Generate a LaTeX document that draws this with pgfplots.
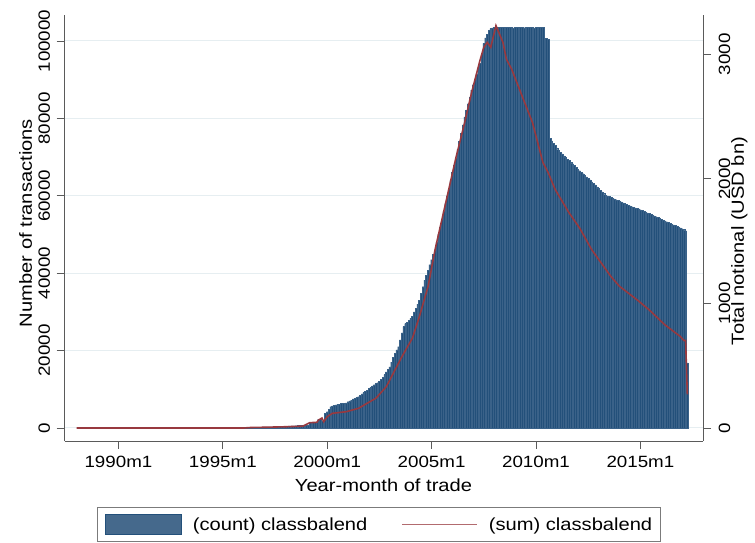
\documentclass[border=0pt]{standalone}
\usepackage{pgfplots}
\pgfplotsset{compat=1.18}
\usepackage{fontspec}
\setmainfont{Liberation Sans}[FakeStretch=1.15]
\definecolor{barblue}{HTML}{23507A}
\definecolor{baredge}{HTML}{3A6289}
\definecolor{legblue}{HTML}{45698C}
\definecolor{stmaroon}{HTML}{98393F}
\definecolor{gridc}{HTML}{E6EEF1}
\definecolor{axisc}{HTML}{5A5A5A}
\newcommand{\tickfont}{\fontsize{16.3}{18}\selectfont}
\newcommand{\labfont}{\fontsize{17.5}{20}\selectfont}

% monthly count, t = months since 1988m1
\pgfplotstableread{
t v
96 150
97 160
98 170
99 180
100 190
101 200
102 210
103 220
104 230
105 240
106 250
107 260
108 270
109 280
110 290
111 300
112 320
113 340
114 360
115 380
116 400
117 420
118 440
119 460
120 480
121 500
122 520
123 540
124 560
125 580
126 600
127 620
128 640
129 660
130 680
131 700
132 720
133 740
134 1400
135 1400
136 1450
137 1450
138 1500
139 2300
140 2300
141 1700
142 1700
143 3800
144 4200
145 4800
146 5500
147 5700
148 5900
149 6000
150 6100
151 6200
152 6300
153 6300
154 6400
155 6500
156 6800
157 7000
158 7200
159 7500
160 7700
161 7900
162 8100
163 8400
164 8800
165 9200
166 9500
167 9800
168 10200
169 10500
170 10900
171 11200
172 11500
173 11700
174 12000
175 12500
176 13100
177 13800
178 14500
179 15200
180 15800
181 17000
182 18200
183 19300
184 20200
185 21000
186 22800
187 24600
188 26200
189 27000
190 27300
191 27800
192 28300
193 28800
194 30000
195 31000
196 32000
197 33000
198 34800
199 36500
200 38200
201 39500
202 40800
203 42200
204 43500
205 44800
206 46000
207 48000
208 50000
209 52000
210 54000
211 56000
212 58000
213 60000
214 62000
215 64000
216 66000
217 68000
218 69700
219 72000
220 74100
221 76200
222 78300
223 80400
224 82100
225 83800
226 85500
227 87300
228 88700
229 90100
230 91500
231 92900
232 94200
233 96800
234 99400
235 100800
236 101800
237 102800
238 103200
239 103400
240 103500
241 103500
242 103400
243 103500
244 103500
245 103500
246 103400
247 103500
248 103500
249 103500
250 103500
251 103400
252 103500
253 103500
254 103500
255 103500
256 103500
257 103400
258 103500
259 103500
260 103500
261 103500
262 103500
263 103400
264 103500
265 103500
266 103500
267 103500
268 103500
269 98500
270 100700
271 100500
272 74800
273 74200
274 73600
275 73000
276 72400
277 71800
278 71300
279 70800
280 70300
281 69900
282 69500
283 69200
284 68700
285 68300
286 67800
287 67400
288 66900
289 66500
290 66100
291 65700
292 65300
293 64900
294 64500
295 64100
296 63600
297 63200
298 62800
299 62300
300 61900
301 61400
302 61000
303 60600
304 60200
305 60000
306 59800
307 59600
308 59400
309 59200
310 59000
311 58800
312 58600
313 58400
314 58200
315 58000
316 57800
317 57600
318 57400
319 57200
320 57000
321 56900
322 56800
323 56600
324 56400
325 56200
326 56000
327 55800
328 55600
329 55400
330 55200
331 55000
332 54800
333 54600
334 54400
335 54200
336 53900
337 53700
338 53500
339 53300
340 53100
341 52900
342 52700
343 52500
344 52300
345 52100
346 51900
347 51700
348 51500
349 51300
350 51000
351 16800
}\countdata

% sum of notional (USD bn)
\pgfplotstableread{
t v
0 0
96 0
100 4
108 6
120 10
130 15
134 43
138 45
139 64
141 80
142 50
144 91
147 118
155 131
162 158
167 199
172 239
178 332
182 440
187 574
193 722
197 895
202 1137
206 1432
212 1800
218 2170
223 2451
227 2693
232 2960
234 3055
236 3095
238 3055
241 3229
245 3095
247 2960
250 2880
256 2665
262 2451
266 2236
268 2130
271 2050
275 1915
283 1727
289 1607
296 1432
307 1217
312 1137
322 1030
329 949
334 882
338 829
347 734
349 702
350 702
351 270
}\sumdata

\begin{document}
\begin{tikzpicture}
\useasboundingbox (0,0) rectangle (755pt,543pt);
\begin{axis}[
  at={(64.5pt,102pt)}, anchor=south west,
  scale only axis, width=638.5pt, height=426pt,
  xmin=-7, xmax=360,
  ymin=-3359, ymax=106718,
  scaled y ticks=false, scaled x ticks=false,
  axis x line*=bottom, axis y line*=left,
  axis line style={axisc, line width=0.9pt},
  tick style={axisc, line width=0.9pt},
  tick align=outside, major tick length=8pt,
  xtick={24,84,144,204,264,324},
  xticklabels={1990m1,1995m1,2000m1,2005m1,2010m1,2015m1},
  ytick={0,20000,40000,60000,80000,100000},
  yticklabels={0,20000,40000,60000,80000,100000},
  xticklabel style={font=\tickfont, anchor=base, inner sep=0pt, yshift=-18.3pt},
  yticklabel style={font=\tickfont, inner sep=0pt, xshift=-6.5pt, rotate=90, anchor=base},
  ymajorgrids, grid style={gridc, line width=1pt},
  xlabel={Year-month of trade},
  xlabel style={font=\labfont, at={(axis description cs:0.4996,-0.119)}, anchor=base, inner sep=0pt},
  ylabel={Number of transactions},
  ylabel style={font=\labfont, at={(axis description cs:-0.0509,0.5117)}, rotate=0, anchor=base, inner sep=0pt},
  legend columns=2,
  legend cell align=left,
  legend style={at={(axis description cs:0.0509,-0.1549)}, anchor=north west,
    draw=axisc!80, line width=0.8pt, font=\labfont,
    inner xsep=8pt, inner ysep=7pt, nodes={inner sep=0pt},
    /tikz/every odd column/.append style={column sep=11pt},
    /tikz/every even column/.append style={column sep=34pt}},
]
\addplot[ybar, bar width=1, fill=barblue, draw=baredge, line width=0.25pt,
  legend image code/.code={\fill[legblue, draw=barblue, line width=0.5pt] (0pt,-10pt) rectangle (76pt,10pt);}]
  table[x=t, y=v] {\countdata};
\addlegendentry{(count) classbalend}
\addlegendimage{legend image code/.code={\draw[stmaroon!75, line width=1.5pt] (0pt,0pt) -- (75pt,0pt);}}
\addlegendentry{(sum) classbalend}
\end{axis}
\begin{axis}[
  at={(64.5pt,102pt)}, anchor=south west,
  scale only axis, width=638.5pt, height=426pt,
  xmin=-7, xmax=360,
  ymin=-104.3, ymax=3314.6,
  scaled y ticks=false,
  axis x line=none, axis y line*=right,
  axis line style={axisc, line width=0.9pt},
  tick style={axisc, line width=0.9pt},
  tick align=outside, major tick length=8pt,
  ytick={0,1000,2000,3000},
  yticklabels={0,1000,2000,3000},
  yticklabel style={font=\tickfont, inner sep=0pt, xshift=19pt, rotate=90, anchor=base},
  ylabel={Total notional (USD bn)},
  ylabel style={font=\labfont, at={(axis description cs:1.0642,0.4695)}, rotate=0, anchor=base, inner sep=0pt},
]
\addplot[stmaroon, line width=1.6pt, no markers] table[x=t, y=v] {\sumdata};
\end{axis}
\end{tikzpicture}
\end{document}
